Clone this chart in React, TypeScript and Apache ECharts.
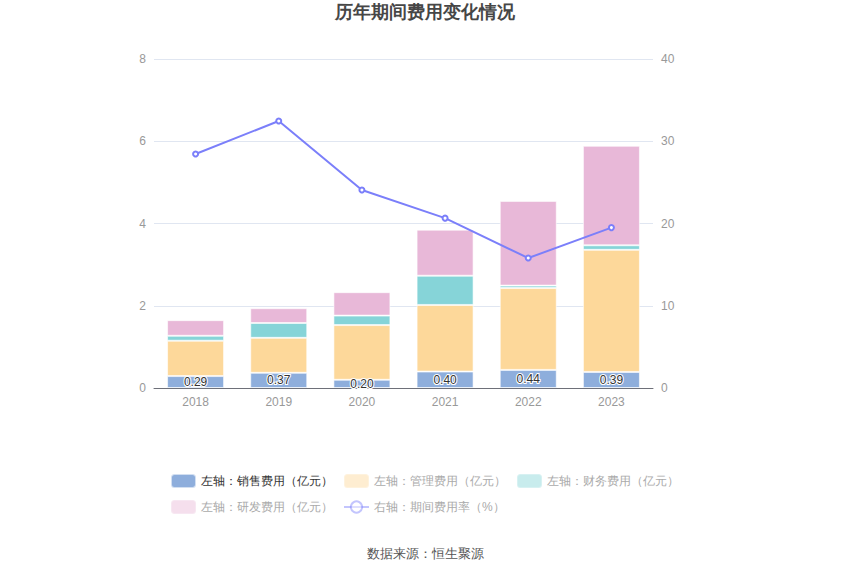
import React, { useEffect, useRef } from "react";
import * as echarts from "echarts";

const categories = ["2018", "2019", "2020", "2021", "2022", "2023"];
const salesExp = [0.29, 0.37, 0.2, 0.4, 0.44, 0.39];
const mgmtExp = [0.86, 0.85, 1.33, 1.62, 1.99, 2.97];
const finExp = [0.12, 0.36, 0.23, 0.71, 0.06, 0.11];
const rdExp = [0.38, 0.36, 0.57, 1.12, 2.06, 2.42];
const expRate = [28.45, 32.46, 24.07, 20.65, 15.8, 19.5];

const names = [
  "左轴：销售费用（亿元）",
  "左轴：管理费用（亿元）",
  "左轴：财务费用（亿元）",
  "左轴：研发费用（亿元）",
  "右轴：期间费用率（%）",
];
const colors = ["#8eaedc", "#fdd89a", "#86d4d8", "#e8b8d8", "#7b7ffa"];

export default function App() {
  const ref = useRef<HTMLDivElement>(null);
  useEffect(() => {
    document.body.style.margin = "0";
    if (!ref.current) return;
    const chart = echarts.init(ref.current, null, { renderer: "svg" });
    const barSeries = [salesExp, mgmtExp, finExp, rdExp].map((d, i) => ({
      name: names[i],
      type: "bar",
      stack: "total",
      yAxisIndex: 0,
      barWidth: 57,
      data: d,
      itemStyle: { color: colors[i], borderColor: "rgba(255,255,255,0.6)", borderWidth: 1 },
      label:
        i === 0
          ? {
              show: true,
              position: "inside",
              color: "#333",
              fontSize: 12,
              textBorderColor: "#fff",
              textBorderWidth: 2,
              formatter: (p: any) => p.value.toFixed(2),
            }
          : { show: false },
    }));
    chart.setOption({
      animation: false,
      title: {
        text: "历年期间费用变化情况",
        left: "center",
        top: -2,
        textStyle: { fontSize: 18, fontWeight: "bold", color: "#464646" },
      },
      grid: { left: 154, right: 197, top: 59, bottom: 187 },
      legend: {
        left: 165,
        top: 468,
        width: 520,
        itemWidth: 25,
        itemHeight: 14,
        itemGap: 10,
        textStyle: { fontSize: 12, color: "#999", padding: [0, 4, 0, 0] },
        data: names.map((n, i) => ({
          name: n,
          itemStyle: i === 0 ? {} : { opacity: 0.45 },
          lineStyle: i === 4 ? { opacity: 0.45 } : undefined,
          textStyle: i === 0 ? { color: "#333" } : { color: "#aaa" },
        })),
      },
      xAxis: {
        type: "category",
        data: categories,
        axisLine: { lineStyle: { color: "#6e7079" } },
        axisTick: { alignWithLabel: true, lineStyle: { color: "#6e7079" } },
        axisLabel: { color: "#999", fontSize: 12 },
      },
      yAxis: [
        {
          type: "value",
          min: 0,
          max: 8,
          interval: 2,
          axisLabel: { color: "#999", fontSize: 12, margin: 8 },
          splitLine: { lineStyle: { color: "#e0e6f1" } },
        },
        {
          type: "value",
          min: 0,
          max: 40,
          interval: 10,
          axisLabel: { color: "#999", fontSize: 12, margin: 8 },
          splitLine: { show: false },
        },
      ],
      series: [
        ...barSeries,
        {
          name: names[4],
          type: "line",
          yAxisIndex: 1,
          data: expRate,
          symbol: "emptyCircle",
          symbolSize: 5,
          lineStyle: { color: colors[4], width: 2 },
          itemStyle: { color: colors[4], borderWidth: 1.5 },
        },
      ],
      graphic: [
        {
          type: "text",
          left: "center",
          top: 547,
          style: { text: "数据来源：恒生聚源", fontSize: 13, fill: "#555" },
        },
      ],
    });
    return () => chart.dispose();
  }, []);
  return <div ref={ref} style={{ width: 850, height: 575 }} />;
}
